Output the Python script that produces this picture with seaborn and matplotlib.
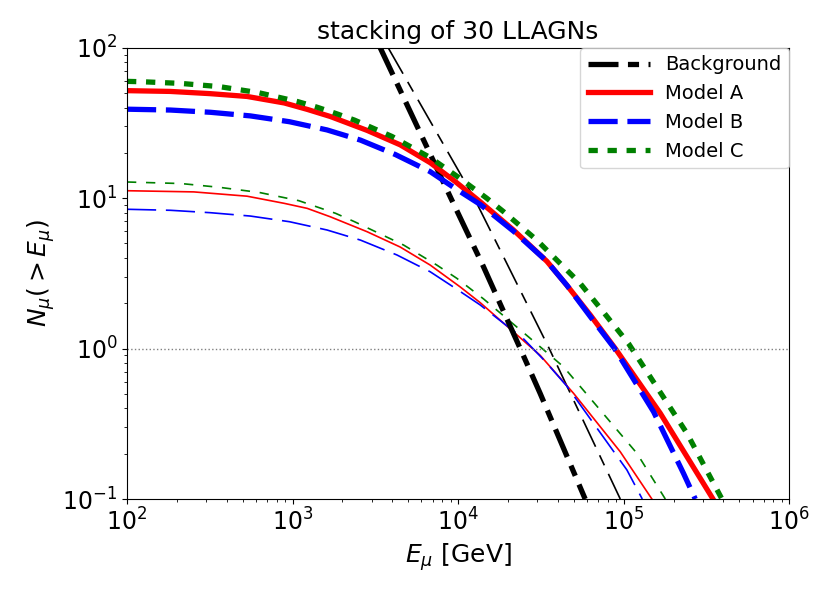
import matplotlib
matplotlib.use("Agg")
import matplotlib.pyplot as plt
import seaborn as sns

# ---- data (E in GeV, N = N_mu(>E)) ----
bg_thick_E = [3381, 9036, 14220, 23710, 31260, 58480]
bg_thick_N = [100, 10, 3.50, 1.0, 0.504, 0.1]

bg_thin_E = [3776, 12500, 19230, 35480, 95280]
bg_thin_N = [100, 10, 3.87, 1.0, 0.1]

A_thick_E = [100, 182, 316, 531, 891, 1225, 1687, 2818, 4467, 6776, 9594, 13580,
             21580, 34360, 45390, 63100, 88920, 166300, 345900]
A_thick_N = [51.8, 51.2, 49.5, 47.4, 42.9, 38.9, 34.9, 28.2, 22.6, 17.2, 12.9, 9.46,
             6.14, 3.80, 2.63, 1.66, 1.0, 0.371, 0.1]

B_thick_E = [100, 183, 319, 556, 957, 1614, 2570, 4169, 6776, 9594, 13580, 21580,
             34360, 45390, 63100, 88100, 151400, 229600, 270400]
B_thick_N = [39.0, 38.5, 37.2, 35.2, 32.2, 28.4, 24.3, 19.5, 15.0, 11.6, 9.08, 6.03,
             3.80, 2.63, 1.62, 1.0, 0.380, 0.148, 0.1]

C_thick_E = [100, 122, 210, 361, 624, 1074, 1406, 1816, 2366, 3981, 6776, 10000,
             14890, 18790, 29850, 54580, 73790, 106900, 241000, 391700]
C_thick_N = [59.7, 59.4, 57.9, 55.1, 50.2, 43.8, 40.2, 36.6, 33.0, 25.7, 18.6, 13.8,
             9.98, 8.13, 5.26, 2.71, 1.80, 1.08, 0.273, 0.1]

A_thin_E = [100, 253, 531, 891, 1225, 1687, 2818, 4467, 6776, 10280, 13580, 20610,
            31260, 49770, 95280, 147900]
A_thin_N = [11.2, 11.0, 10.3, 9.23, 8.55, 7.52, 5.98, 4.73, 3.59, 2.57, 2.02, 1.35,
            0.902, 0.504, 0.206, 0.1]

B_thin_E = [100, 183, 319, 556, 957, 1614, 2570, 4266, 6776, 9817, 13580, 24830,
            33880, 45390, 104500, 129400]
B_thin_N = [8.43, 8.30, 8.00, 7.60, 6.97, 6.14, 5.26, 4.19, 3.24, 2.48, 1.95, 1.16,
            0.813, 0.562, 0.156, 0.1]

C_thin_E = [100, 212, 361, 631, 1089, 1816, 2366, 4677, 7430, 9817, 14220, 27230,
            43250, 72110, 120200, 178200]
C_thin_N = [12.8, 12.5, 11.8, 10.9, 9.62, 7.93, 6.97, 4.88, 3.59, 2.93, 2.14, 1.17,
            0.757, 0.390, 0.201, 0.1]

labels = ["Background", "Model A", "Model B", "Model C"]
title = "stacking of 30 LLAGNs"

# ---- styling ----
plt.rcParams["lines.scale_dashes"] = False
plt.rcParams["font.family"] = ["DejaVu Sans"]

fig = plt.figure(figsize=(8.3, 5.93), dpi=100)
ax = fig.add_axes([0.153, 0.1585, 0.951 - 0.153, 0.9196 - 0.1585])
ax.set_xscale("log")
ax.set_yscale("log")

ls_bg = (0, (21.6, 6.8, 8, 6.8))
ls_B = (0, (21, 7))
ls_C = (0, (6.7, 7))

thin_lw = 1.2
thick_lw = 3.8

curves_thin = [
    (bg_thin_E, bg_thin_N, "black", ls_bg),
    (A_thin_E, A_thin_N, "red", "-"),
    (B_thin_E, B_thin_N, "blue", ls_B),
    (C_thin_E, C_thin_N, "green", ls_C),
]
for E, N, c, ls in curves_thin:
    sns.lineplot(x=E, y=N, ax=ax, color=c, linestyle=ls, linewidth=thin_lw,
                 sort=False, estimator=None)

curves_thick = [
    (bg_thick_E, bg_thick_N, "black", ls_bg),
    (A_thick_E, A_thick_N, "red", "-"),
    (B_thick_E, B_thick_N, "blue", ls_B),
    (C_thick_E, C_thick_N, "green", ls_C),
]
handles = []
for (E, N, c, ls), lab in zip(curves_thick, labels):
    sns.lineplot(x=E, y=N, ax=ax, color=c, linestyle=ls, linewidth=thick_lw,
                 sort=False, estimator=None)
    handles.append(ax.lines[-1])

ax.axhline(1.0, color="gray", linestyle=":", linewidth=1)

ax.set_xlim(1e2, 1e6)
ax.set_ylim(1e-1, 1e2)
ax.tick_params(axis="both", which="major", labelsize=17)
ax.set_xlabel(r"$E_\mu$ [GeV]", fontsize=18)
ax.set_ylabel(r"$N_\mu(>E_\mu)$", fontsize=18)
ax.set_title(title, fontsize=18)

ax.legend(handles, labels, loc="upper right", fontsize=14, handlelength=3.2,
          borderaxespad=0.0)

fig.savefig("out.png", dpi=100)
